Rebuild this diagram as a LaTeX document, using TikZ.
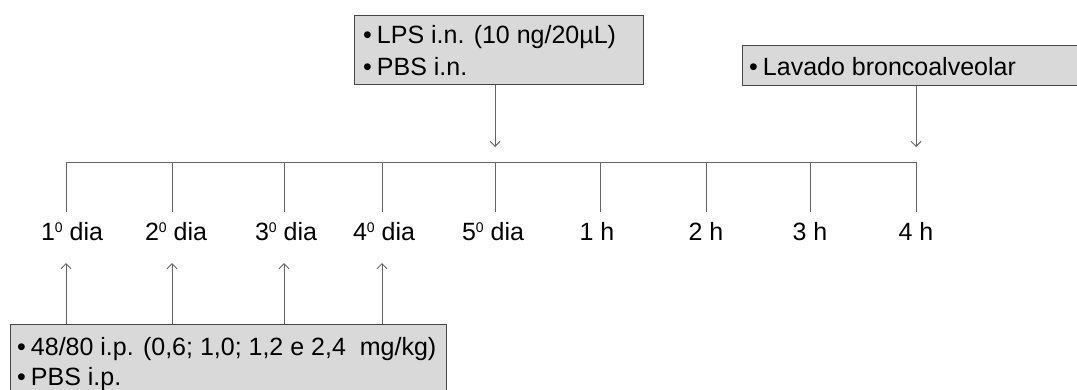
\documentclass[tikz,border=0pt]{standalone}
\usepackage{fontspec}
\setmainfont{Liberation Sans}
\usetikzlibrary{arrows.meta}
\definecolor{linegray}{RGB}{100,100,100}
\definecolor{boxgray}{RGB}{70,70,70}
\definecolor{boxfill}{RGB}{217,217,217}
\newcommand{\ordsup}{\raisebox{7.5pt}{\fontsize{14}{14}\selectfont 0}}
\begin{document}
\begin{tikzpicture}[x=1pt,y=-1pt,
  conn/.style={draw=linegray, line width=1pt},
  arr/.style={conn, -{Straight Barb[length=5pt,width=10pt,line width=1pt]}},
  box/.style={draw=boxgray, fill=boxfill, line width=1pt, rectangle, inner sep=0pt, anchor=north west},
  txt/.style={font=\fontsize{25}{28}\selectfont, inner sep=0pt, anchor=base west},
  lab/.style={font=\fontsize{25}{28}\selectfont, inner sep=0pt, anchor=base}]
\useasboundingbox (0,0) rectangle (1077,389);
\clip (0,0) rectangle (1077,389);
% timeline
\foreach \i/\x in {1/66,2/172,3/284,4/382,5/495,6/600,7/706,8/810,9/916}{
  \coordinate (t\i) at (\x,162);
  \coordinate (b\i) at (\x,212);
}
\draw[conn] (t1) -- (t9);
\foreach \i in {1,...,9}{\draw[conn] (t\i) -- (b\i);}
% labels
\node[lab] (l1) at (72,240) {1\ordsup\ dia};
\node[lab] (l2) at (176,240) {2\ordsup\ dia};
\node[lab] (l3) at (286,240) {3\ordsup\ dia};
\node[lab] (l4) at (384,240) {4\ordsup\ dia};
\node[lab] (l5) at (493,240) {5\ordsup\ dia};
\node[lab] (l6) at (597,240) {1 h};
\node[lab] (l7) at (706,240) {2 h};
\node[lab] (l8) at (810,240) {3 h};
\node[lab] (l9) at (916,240) {4 h};
% top boxes
\node[box, minimum width=289pt, minimum height=69pt] (lps) at (354,15) {};
\node[txt] (lps1) at (363,43) {\textbullet\hspace{5pt}LPS i.n. (10 ng/20µL)};
\node[txt] (lps2) at (363,75) {\textbullet\hspace{5pt}PBS i.n.};
\node[box, minimum width=360pt, minimum height=40pt] (lav) at (742,45) {};
\node[txt] (lav1) at (749,75) {\textbullet\hspace{5pt}Lavado broncoalveolar};
\coordinate (a5) at (495,147);
\coordinate (a9) at (916,147);
\draw[arr] (lps.south -| a5) -- (a5);
\draw[arr] (lav.south -| a9) -- (a9);
% bottom box
\node[box, minimum width=436pt, minimum height=90pt] (inj) at (10,324) {};
\node[txt] (inj1) at (17,355) {\textbullet\hspace{5pt}48/80 i.p. (0,6; 1,0; 1,2 e 2,4~~mg/kg)};
\node[txt] (inj2) at (17,385) {\textbullet\hspace{5pt}PBS i.p.};
\foreach \i/\x in {1/66,2/172,3/284,4/382}{
  \coordinate (u\i) at (\x,263);
  \draw[arr] (inj.north -| u\i) -- (u\i);
}
\end{tikzpicture}
\end{document}
